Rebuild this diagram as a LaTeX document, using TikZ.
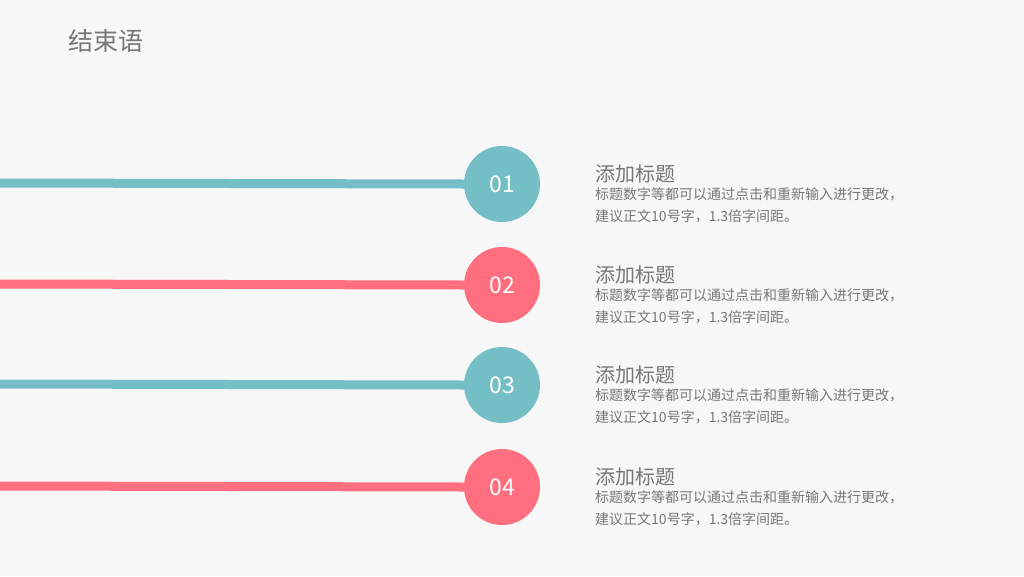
\documentclass[tikz,border=0pt]{standalone}
\usepackage{fontspec}
\setmainfont{Noto Sans CJK SC}
\usetikzlibrary{positioning}
\definecolor{tealc}{HTML}{74BEC5}
\definecolor{pinkc}{HTML}{FF6F7F}
\definecolor{bgc}{HTML}{F7F7F7}
\definecolor{txtc}{HTML}{777777}
\tikzset{
  numcircle/.style={circle, minimum size=76pt, inner sep=0pt, text=white, font=\fontsize{23}{23}\selectfont},
  headtext/.style={anchor=west, text=txtc, font=\fontsize{20}{20}\selectfont, inner sep=0pt},
  bodytext/.style={anchor=north west, text=txtc, font=\fontsize{14}{22}\selectfont, align=left, inner sep=0pt}
}
\begin{document}
\begin{tikzpicture}[x=1pt, y=-1pt]
    \fill[bgc] (0,0) rectangle (1024,576);
    \useasboundingbox (0,0) rectangle (1024,576);
    % Title
    \node (title) [anchor=west, text=txtc, font=\fontsize{25}{25}\selectfont, inner sep=0pt] at (68,41) {结束语};
    % Items
    \foreach \i/\y/\col in {1/183/tealc, 2/284/pinkc, 3/384/tealc, 4/486/pinkc} {
        \coordinate (start\i) at (0,\y);
        \node (num\i) [numcircle, fill=\col] at (502,\y+1) {0\i};
        \draw [\col, line width=9pt] (start\i) -- (num\i.west);
        \node (head\i) [headtext] at (595,\y-9) {添加标题};
        \node (body\i) [bodytext] at ([yshift=-4pt]head\i.south west) {标题数字等都可以通过点击和重新输入进行更改，\\建议正文10号字，1.3倍字间距。};
    }
\end{tikzpicture}
\end{document}
